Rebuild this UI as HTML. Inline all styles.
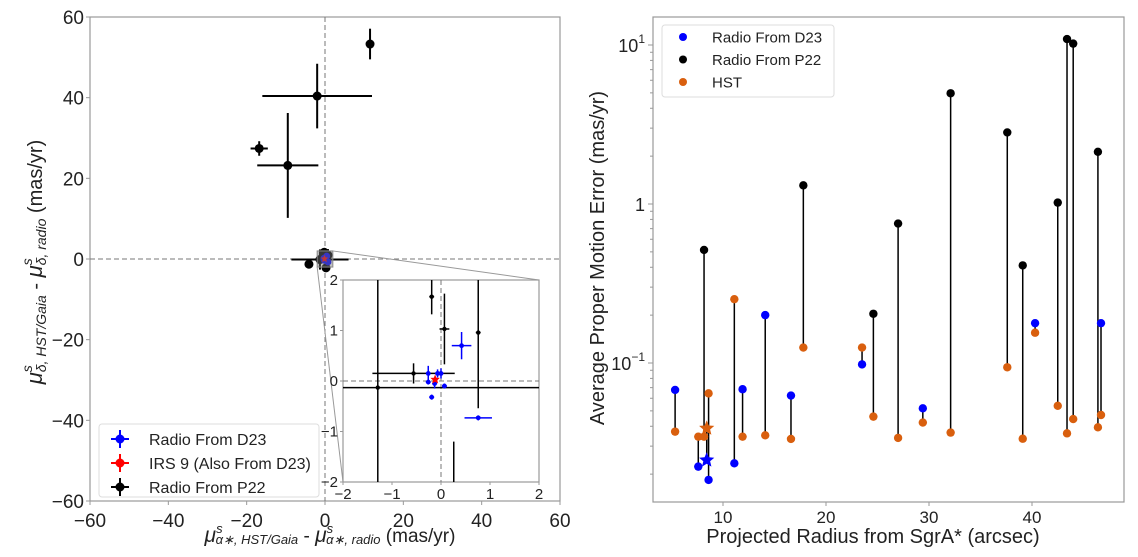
<!DOCTYPE html>
<html><head><meta charset="utf-8"><style>
html,body{margin:0;background:#fff;overflow:hidden;width:1138px;height:557px}
svg{display:block;font-family:"Liberation Sans",sans-serif}
</style></head><body>
<svg id="fig" width="1138" height="557" viewBox="0 0 1138 557">
<g id="left"></g>
<g id="right"></g>
</svg>
<script>
// ---------- LEFT CHART DATA ----------
const p22X=[11.5,-2.0,-16.8,-9.5,-4.1,0.26,-1.29,-0.56,-0.19,0.07,0.76];
const p22Y=[53.3,40.4,27.4,23.2,-1.3,-2.2,-0.13,0.15,1.67,1.03,0.96];
const p22Xerr=[0.6,14,2.2,7.8,0.3,0.1,7.3,0.84,0.05,0.1,0.05];
const p22Yerr=[3.8,8,1.8,13,1,1,2.5,0.2,0.35,0.7,1.5];
const d23X=[0.42,0.76,-0.26,-0.26,-0.19,-0.13,-0.07,0.0,0.07];
const d23Y=[0.7,-0.73,0.15,-0.02,-0.32,-0.05,0.15,0.15,-0.1];
const d23Xerr=[0.2,0.28,0.03,0.05,0.05,0.05,0.05,0.05,0.05];
const d23Yerr=[0.27,0.05,0.15,0.05,0.05,0.1,0.08,0.1,0.05];
const irs9X=[-0.12], irs9Y=[0.03], irs9Xerr=[0.05], irs9Yerr=[0.05];
const mainTicks=[-60,-40,-20,0,20,40,60];
const insetTicks=[-2,-1,0,1,2];
// ---------- RIGHT CHART DATA ----------
const radius=[5.35,7.6,8.16,8.42,8.6,11.1,11.9,14.1,16.6,17.8,23.5,24.6,27.0,29.4,32.1,37.6,39.1,40.3,42.5,43.4,44.0,46.4,46.7];
const radioErr=[0.0677,0.0223,0.514,0.0245,0.0184,0.0234,0.0684,0.2,0.0624,1.31,0.098,0.204,0.753,0.0519,4.97,2.82,0.411,0.178,1.02,10.9,10.2,2.13,0.178];
const radioSrc=['D','D','P','D','D','D','D','D','D','P','D','P','P','D','P','P','P','D','P','P','P','P','D'];
const hstErr=[0.037,0.0344,0.0344,0.0388,0.0644,0.252,0.0344,0.0351,0.0333,0.125,0.125,0.046,0.0338,0.0422,0.0365,0.094,0.0334,0.155,0.0538,0.0361,0.0444,0.0394,0.0471];
const isStar=[0,0,0,1,0,0,0,0,0,0,0,0,0,0,0,0,0,0,0,0,0,0,0];
const xTicksR=[10,20,30,40];
const yTicksR=[0.1,1,10];

const NS='http://www.w3.org/2000/svg';
function el(tag,attrs,parent,text){const e=document.createElementNS(NS,tag);for(const k in attrs)e.setAttribute(k,attrs[k]);if(text!==undefined)e.textContent=text;parent.appendChild(e);return e;}
const L=document.getElementById('left'), R=document.getElementById('right');
const fmt=v=>v<0?'\u2212'+(-v):''+v;

// ---- left axes ----
const mx=v=>325+v*(560-90)/120, my=v=>259-v*(501-17)/120;
const ix=v=>441+v*49, iy=v=>381-v*50.5;
const defs=el('defs',{},L);
const cp=el('clipPath',{id:'clipMain'},defs);el('rect',{x:90,y:17,width:470,height:484},cp);
const cp2=el('clipPath',{id:'clipIn'},defs);el('rect',{x:343,y:280,width:196,height:202},cp2);

let frame=el('rect',{x:90,y:17,width:470,height:484,fill:'none',stroke:'#999','stroke-width':1.2},L);

mainTicks.forEach(t=>{
 el('line',{x1:mx(t),x2:mx(t),y1:501,y2:505,stroke:'#999'},L);
 let tx=el('text',{x:mx(t),y:527,'font-size':19,'text-anchor':'middle',fill:'#222'},L,fmt(t));
 
 el('line',{x1:86,x2:90,y1:my(t),y2:my(t),stroke:'#999'},L);
 let ty=el('text',{x:84,y:my(t)+7,'font-size':19,'text-anchor':'end',fill:'#222'},L,fmt(t));
 
});
const mg=el('g',{'clip-path':'url(#clipMain)'},L);
el('line',{x1:mx(0),x2:mx(0),y1:17,y2:501,stroke:'#777','stroke-dasharray':'5,3','stroke-width':1},mg);
el('line',{x1:90,x2:560,y1:my(0),y2:my(0),stroke:'#777','stroke-dasharray':'5,3','stroke-width':1},mg);

function errSet(g,X,Y,XE,YE,color,fx,fy,r,w,name){
 for(let i=0;i<X.length;i++){
  const grp=el('g',{},g);
  
  
  el('line',{x1:fx(X[i]-XE[i]),x2:fx(X[i]+XE[i]),y1:fy(Y[i]),y2:fy(Y[i]),stroke:color,'stroke-width':w},grp);
  el('line',{x1:fx(X[i]),x2:fx(X[i]),y1:fy(Y[i]-YE[i]),y2:fy(Y[i]+YE[i]),stroke:color,'stroke-width':w},grp);
  if(name==='irs9-point'){
   const cx=fx(X[i]),cy=fy(Y[i]),pts=[];
   for(let k=0;k<10;k++){const a=-Math.PI/2+k*Math.PI/5,rr=k%2?r*0.45:r;pts.push((cx+rr*Math.cos(a)).toFixed(1)+','+(cy+rr*Math.sin(a)).toFixed(1));}
   el('polygon',{points:pts.join(' '),fill:color},grp);
  } else el('circle',{cx:fx(X[i]),cy:fy(Y[i]),r:r,fill:color},grp);
 }
}
errSet(mg,p22X,p22Y,p22Xerr,p22Yerr,'#000',mx,my,4.5,2,'p22-point');
errSet(mg,d23X,d23Y,d23Xerr,d23Yerr,'#0000ff',mx,my,3.5,2,'d23-point');
errSet(mg,irs9X,irs9Y,irs9Xerr,irs9Yerr,'#ff0000',mx,my,4,2,'irs9-point');
let zr=el('rect',{x:mx(-2),y:my(2),width:mx(2)-mx(-2),height:my(-2)-my(2),fill:'rgba(120,120,120,0.45)',stroke:'#888','stroke-width':1},L);

el('line',{x1:mx(2),y1:my(2),x2:539,y2:280,stroke:'#999','stroke-width':1},L);
el('line',{x1:mx(-2),y1:my(-2),x2:343,y2:482,stroke:'#999','stroke-width':1},L);
const ins=el('g',{},L);

el('rect',{x:343,y:280,width:196,height:202,fill:'#fff',stroke:'#999','stroke-width':1.2},ins);
insetTicks.forEach(t=>{
 el('line',{x1:ix(t),x2:ix(t),y1:482,y2:485,stroke:'#999'},ins);
 el('text',{x:ix(t),y:499,'font-size':15,'text-anchor':'middle',fill:'#222'},ins,fmt(t));
 el('line',{x1:340,x2:343,y1:iy(t),y2:iy(t),stroke:'#999'},ins);
 el('text',{x:338,y:iy(t)+5,'font-size':15,'text-anchor':'end',fill:'#222'},ins,fmt(t));
});
const ig=el('g',{'clip-path':'url(#clipIn)'},ins);
el('line',{x1:ix(0),x2:ix(0),y1:280,y2:482,stroke:'#777','stroke-dasharray':'5,3'},ig);
el('line',{x1:343,x2:539,y1:iy(0),y2:iy(0),stroke:'#777','stroke-dasharray':'5,3'},ig);
const bigErrX=p22Xerr.map((v,i)=>i===6?14:v), bigErrY=p22Yerr.map((v,i)=>i===6?14:v);
errSet(ig,p22X,p22Y,bigErrX,bigErrY,'#000',ix,iy,2.2,1.5,'p22-point');
errSet(ig,d23X,d23Y,d23Xerr,d23Yerr,'#0000ff',ix,iy,2.4,1.5,'d23-point');
errSet(ig,irs9X,irs9Y,irs9Xerr,irs9Yerr,'#ff0000',ix,iy,5,1.5,'irs9-point');
const lg=el('g',{},L);

el('rect',{x:99,y:424,width:220,height:73,rx:3,fill:'#fff',stroke:'#ddd'},lg);
[['Radio From D23','#0000ff'],['IRS 9 (Also From D23)','#ff0000'],['Radio From P22','#000']].forEach((d,i)=>{
 const y=439+i*24;
 el('line',{x1:111,x2:129,y1:y,y2:y,stroke:d[1],'stroke-width':2},lg);
 el('line',{x1:120,x2:120,y1:y-9,y2:y+9,stroke:d[1],'stroke-width':2},lg);
 el('circle',{cx:120,cy:y,r:4.5,fill:d[1]},lg);
 let t=el('text',{x:149,y:y+6,'font-size':16,fill:'#222'},lg,d[0]);
 
});
let xl=el('text',{x:330,y:542,'font-size':19,'text-anchor':'middle',fill:'#222'},L);

xl.innerHTML='<tspan font-style="italic" font-size="21">μ</tspan><tspan font-style="italic" font-size="13" dy="-9">s</tspan><tspan font-style="italic" font-size="13" dx="-7" dy="11">α∗, HST/Gaia</tspan><tspan dy="-2"> - </tspan><tspan font-style="italic" font-size="21">μ</tspan><tspan font-style="italic" font-size="13" dy="-9">s</tspan><tspan font-style="italic" font-size="13" dx="-7" dy="11">α∗, radio</tspan><tspan dy="-2"> (mas/yr)</tspan>';
let yl=el('text',{x:0,y:0,'font-size':20,'text-anchor':'middle',fill:'#222',transform:'translate(42,262) rotate(-90)'},L);

yl.innerHTML='<tspan font-style="italic" font-size="22">μ</tspan><tspan font-style="italic" font-size="14" dy="-10">s</tspan><tspan font-style="italic" font-size="14" dx="-7" dy="14">δ, HST/Gaia</tspan><tspan dy="-4"> - </tspan><tspan font-style="italic" font-size="22">μ</tspan><tspan font-style="italic" font-size="14" dy="-10">s</tspan><tspan font-style="italic" font-size="14" dx="-7" dy="14">δ, radio</tspan><tspan dy="-4"> (mas/yr)</tspan>';

// ---- right axes ----
const rx=v=>723+(v-10)*10.3, ry=v=>204-Math.log10(v)*159;
let rf=el('rect',{x:653,y:17,width:471,height:485,fill:'none',stroke:'#999','stroke-width':1.2},R);

xTicksR.forEach(t=>{
 el('line',{x1:rx(t),x2:rx(t),y1:502,y2:506,stroke:'#999'},R);
 let tx=el('text',{x:rx(t),y:523,'font-size':17,'text-anchor':'middle',fill:'#222'},R,''+t);
 
});
for(let d=-2;d<=1;d++)for(let m=2;m<=9;m++){const v=m*Math.pow(10,d),y=ry(v);if(y>17&&y<502)el('line',{x1:650,x2:653,y1:y,y2:y,stroke:'#999'},R);}
yTicksR.forEach(t=>{
 el('line',{x1:648,x2:653,y1:ry(t),y2:ry(t),stroke:'#999'},R);
 let ty=el('text',{x:645,y:ry(t)+7,'font-size':18,'text-anchor':'end',fill:'#222'},R);
 
 if(t===1) ty.textContent='1';
 else ty.innerHTML='10<tspan font-size="12" dy="-9">'+(t<1?'\u22121':'1')+'</tspan>';
});
const sg=el('g',{},R);
for(let i=0;i<radius.length;i++){
 let s=el('line',{x1:rx(radius[i]),x2:rx(radius[i]),y1:ry(radioErr[i]),y2:ry(hstErr[i]),stroke:'#000','stroke-width':1.5},sg);
 
}
function star(g,cx,cy,r,c){const pts=[];for(let k=0;k<10;k++){const a=-Math.PI/2+k*Math.PI/5,rr=k%2?r*0.45:r;pts.push((cx+rr*Math.cos(a)).toFixed(1)+','+(cy+rr*Math.sin(a)).toFixed(1));}return el('polygon',{points:pts.join(' '),fill:c},g);}
for(let i=0;i<radius.length;i++){
 const c=radioSrc[i]==='D'?'#0000ff':'#000';
 let m1=isStar[i]?star(sg,rx(radius[i]),ry(radioErr[i]),8,c):el('circle',{cx:rx(radius[i]),cy:ry(radioErr[i]),r:4.2,fill:c},sg);
 
 let m2=isStar[i]?star(sg,rx(radius[i]),ry(hstErr[i]),8,'#d95f0e'):el('circle',{cx:rx(radius[i]),cy:ry(hstErr[i]),r:4.2,fill:'#d95f0e'},sg);
 
}
const rl=el('g',{},R);

el('rect',{x:662,y:25,width:172,height:72,rx:3,fill:'#fff',stroke:'#ddd'},rl);
[['Radio From D23','#0000ff'],['Radio From P22','#000'],['HST','#d95f0e']].forEach((d,i)=>{
 const y=37+i*22.5;
 el('circle',{cx:683,cy:y,r:4,fill:d[1]},rl);
 let t=el('text',{x:712,y:y+5.5,'font-size':15,fill:'#222'},rl,d[0]);
 
});
let rxl=el('text',{x:873,y:543,'font-size':20,'text-anchor':'middle',fill:'#222'},R,'Projected Radius from SgrA* (arcsec)');

let ryl=el('text',{x:0,y:0,'font-size':20,'text-anchor':'middle',fill:'#222',transform:'translate(604,258) rotate(-90)'},R,'Average Proper Motion Error (mas/yr)');

</script>
</body></html>
